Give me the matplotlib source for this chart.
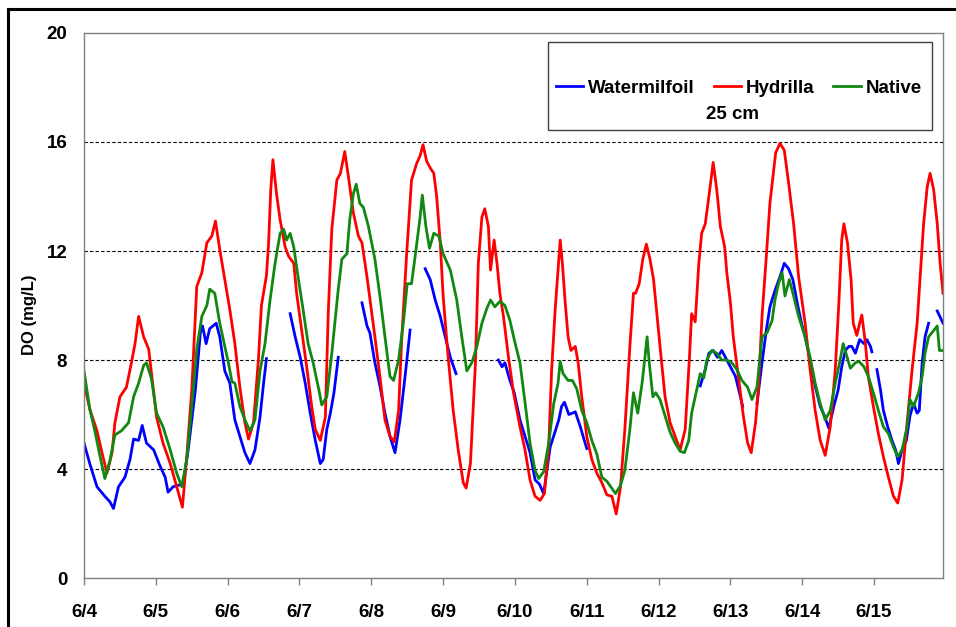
####################
# Imports
####################

import numpy as np
import matplotlib
matplotlib.use("Agg")
import matplotlib.pyplot as plt
from matplotlib.patches import Rectangle
from matplotlib.lines import Line2D

plt.rcParams['font.family'] = ['Liberation Sans', 'DejaVu Sans']
plt.rcParams['font.weight'] = 'bold'

nan = np.nan

####################
# Data (time in days since 6/4 00:00, DO in mg/L)
####################

day_labels = ["6/4", "6/5", "6/6", "6/7", "6/8", "6/9", "6/10", "6/11",
              "6/12", "6/13", "6/14", "6/15"]

hydrilla_t = [0.00, 0.08, 0.18, 0.25, 0.32, 0.39, 0.43, 0.50, 0.59, 0.66, 0.71, 0.76, 0.83, 0.90, 0.94, 1.01, 1.10, 1.20, 1.29, 1.37, 1.43, 1.50, 1.57, 1.64, 1.71, 1.78, 1.83, 1.89, 1.96,
              2.03, 2.10, 2.17, 2.24, 2.29, 2.36, 2.43, 2.47, 2.54, 2.57, 2.60, 2.63, 2.68, 2.73, 2.80, 2.85, 2.92, 2.96, 3.03, 3.10, 3.17, 3.22, 3.29, 3.36, 3.40, 3.45, 3.52, 3.57, 3.63, 3.68, 3.75, 3.82, 3.87, 3.94,
              4.05, 4.12, 4.19, 4.26, 4.32, 4.38, 4.42, 4.49, 4.56, 4.63, 4.68, 4.72, 4.77, 4.82, 4.87, 4.91, 4.96, 5.00, 5.07, 5.14, 5.21, 5.28, 5.32, 5.38, 5.45, 5.49, 5.54, 5.58, 5.63, 5.66, 5.71, 5.75, 5.79, 5.84, 5.91, 5.98,
              6.07, 6.14, 6.21, 6.28, 6.35, 6.41, 6.47, 6.51, 6.56, 6.60, 6.63, 6.66, 6.70, 6.74, 6.78, 6.84, 6.88, 6.93, 7.00, 7.07, 7.14, 7.21, 7.28, 7.35, 7.41, 7.47, 7.53, 7.60, 7.65, 7.68, 7.73, 7.78, 7.83, 7.88, 7.93,
              8.02, 8.09, 8.16, 8.23, 8.30, 8.37, 8.43, 8.46, 8.51, 8.56, 8.60, 8.65, 8.70, 8.76, 8.81, 8.86, 8.92, 8.95, 9.00, 9.04, 9.11, 9.18, 9.24, 9.29, 9.35, 9.39, 9.44, 9.50, 9.55, 9.63, 9.69, 9.75, 9.81, 9.88, 9.95,
              10.04, 10.11, 10.18, 10.25, 10.32, 10.39, 10.46, 10.51, 10.55, 10.58, 10.63, 10.68, 10.71, 10.76, 10.80, 10.83, 10.88, 10.92, 10.99, 11.06, 11.13, 11.20, 11.27, 11.33, 11.39, 11.46, 11.53, 11.60, 11.64, 11.69, 11.74, 11.78, 11.83, 11.88, 11.92, 11.96]
hydrilla_do = [7.15, 6.2, 5.4, 4.6, 3.85, 4.6, 5.7, 6.65, 7.0, 7.9, 8.6, 9.6, 8.85, 8.4, 7.5, 5.9, 4.95, 4.2, 3.35, 2.6, 4.45, 6.9, 10.7, 11.2, 12.3, 12.55, 13.1, 12.05, 10.95,
               9.85, 8.6, 7.0, 5.7, 5.1, 5.7, 8.1, 10.0, 11.1, 12.3, 14.25, 15.35, 14.1, 13.15, 12.15, 11.8, 11.55, 10.45, 9.1, 7.75, 6.3, 5.45, 5.05, 5.9, 9.7, 12.8, 14.6, 14.85, 15.65, 14.75, 13.4, 12.55, 12.3, 11.05,
               8.85, 7.4, 5.8, 5.2, 5.0, 6.15, 8.6, 11.8, 14.6, 15.2, 15.5, 15.9, 15.3, 15.05, 14.85, 14.0, 12.3, 10.35, 8.1, 6.15, 4.7, 3.5, 3.3, 4.2, 7.9, 11.55, 13.25, 13.55, 12.9, 11.3, 12.4, 11.55, 10.45, 9.6, 8.1, 6.8,
               5.55, 4.7, 3.6, 3.0, 2.85, 3.1, 4.8, 7.6, 9.85, 11.3, 12.4, 11.55, 10.1, 8.85, 8.35, 8.5, 7.9, 6.65, 5.2, 4.35, 3.85, 3.5, 3.05, 3.0, 2.35, 3.35, 5.45, 8.5, 10.45, 10.45, 10.8, 11.7, 12.25, 11.7, 10.95,
               8.5, 6.65, 5.7, 5.2, 4.7, 5.45, 8.1, 9.7, 9.4, 11.55, 12.65, 13.0, 14.0, 15.25, 14.25, 12.9, 12.15, 11.2, 10.1, 8.85, 7.4, 5.95, 4.95, 4.6, 5.7, 6.95, 9.6, 11.8, 13.75, 15.6, 15.95, 15.7, 14.5, 13.0, 11.05,
               9.35, 7.65, 6.15, 5.05, 4.5, 5.55, 7.65, 10.1, 12.4, 13.0, 12.3, 10.95, 9.35, 8.9, 9.35, 9.65, 8.6, 7.4, 6.3, 5.3, 4.45, 3.7, 3.0, 2.75, 3.6, 5.7, 7.65, 9.35, 10.95, 13.0, 14.35, 14.85, 14.25, 13.0, 11.55, 10.45]

native_t = [0.00, 0.08, 0.15, 0.22, 0.29, 0.36, 0.43, 0.52, 0.62, 0.69, 0.76, 0.83, 0.87, 0.94, 1.01, 1.10, 1.20, 1.29, 1.36, 1.43, 1.50, 1.57, 1.64, 1.71, 1.75, 1.82, 1.89,
            2.01, 2.06, 2.10, 2.17, 2.24, 2.31, 2.38, 2.45, 2.52, 2.59, 2.66, 2.73, 2.78, 2.82, 2.87, 2.92, 2.98, 3.05, 3.12, 3.19, 3.27, 3.31, 3.38, 3.45, 3.54, 3.59, 3.66, 3.70, 3.75, 3.79, 3.84, 3.89, 3.96,
            4.05, 4.12, 4.19, 4.26, 4.31, 4.38, 4.45, 4.50, 4.56, 4.61, 4.68, 4.71, 4.76, 4.81, 4.87, 4.94, 5.00, 5.10, 5.19, 5.26, 5.33, 5.40, 5.47, 5.54, 5.61, 5.66, 5.72, 5.79, 5.86, 5.93, 5.99,
            6.07, 6.14, 6.21, 6.28, 6.33, 6.40, 6.47, 6.54, 6.60, 6.63, 6.67, 6.74, 6.80, 6.86, 6.93, 7.00, 7.07, 7.14, 7.21, 7.28, 7.40, 7.47, 7.53, 7.60, 7.65, 7.71, 7.77, 7.81, 7.84, 7.87, 7.92, 7.96,
            8.02, 8.09, 8.16, 8.23, 8.30, 8.36, 8.42, 8.46, 8.53, 8.58, 8.63, 8.67, 8.74, 8.81, 8.88, 8.95, 9.02, 9.09, 9.16, 9.24, 9.30, 9.37, 9.44, 9.51, 9.58, 9.62, 9.67, 9.72, 9.76, 9.82, 9.88, 9.95,
            10.04, 10.11, 10.18, 10.25, 10.32, 10.39, 10.46, 10.52, 10.57, 10.62, 10.67, 10.74, 10.79, 10.86, 10.92, 10.99, 11.06, 11.13, 11.20, 11.27, 11.33, 11.39, 11.46, 11.50, 11.55, 11.62, 11.67, 11.71, 11.76, 11.82, 11.88, 11.91, 11.96]
native_do = [7.6, 6.2, 5.4, 4.5, 3.65, 4.3, 5.25, 5.4, 5.7, 6.65, 7.15, 7.8, 7.9, 7.3, 6.05, 5.55, 4.7, 3.85, 3.35, 4.35, 6.3, 8.4, 9.6, 10.0, 10.6, 10.45, 9.35,
             7.9, 7.2, 7.15, 6.3, 5.8, 5.4, 5.8, 7.6, 8.6, 10.2, 11.55, 12.65, 12.8, 12.4, 12.65, 12.15, 11.05, 9.85, 8.6, 7.9, 6.9, 6.35, 6.65, 8.25, 10.6, 11.7, 11.9, 13.15, 14.1, 14.45, 13.75, 13.6, 12.9,
             11.7, 10.35, 8.85, 7.4, 7.25, 8.0, 9.45, 10.8, 10.8, 11.8, 13.25, 14.05, 12.9, 12.1, 12.65, 12.55, 11.9, 11.3, 10.2, 8.85, 7.6, 7.9, 8.5, 9.35, 9.9, 10.2, 9.95, 10.15, 10.0, 9.45, 8.75,
             7.9, 6.45, 4.95, 3.95, 3.65, 3.9, 4.95, 6.4, 7.15, 7.95, 7.5, 7.25, 7.25, 6.95, 6.15, 5.7, 5.05, 4.55, 3.7, 3.55, 3.1, 3.4, 3.95, 5.45, 6.8, 6.05, 7.15, 8.1, 8.85, 7.9, 6.65, 6.8,
             6.55, 5.95, 5.35, 4.95, 4.65, 4.6, 5.05, 6.05, 6.9, 7.5, 7.35, 8.0, 8.35, 8.25, 8.0, 8.0, 7.9, 7.65, 7.25, 7.0, 6.55, 7.0, 8.85, 9.0, 9.45, 10.2, 10.8, 11.2, 10.35, 10.95, 10.35, 9.6,
             8.85, 8.1, 7.15, 6.4, 5.8, 6.15, 7.15, 7.9, 8.6, 8.15, 7.7, 7.9, 7.95, 7.75, 7.4, 6.8, 6.15, 5.55, 5.3, 4.8, 4.45, 4.7, 5.55, 6.55, 6.3, 6.8, 7.4, 8.25, 8.85, 9.05, 9.25, 8.35, 8.35]

# watermilfoil logger has gaps (nan breaks the line)
milfoil_t = [0.00, 0.08, 0.18, 0.29, 0.36, 0.41, 0.48, 0.57, 0.64, 0.69, 0.76, 0.81, 0.87, 0.97, 1.06, 1.13, 1.17, 1.24, 1.31, 1.38, 1.45, 1.55, 1.62, 1.65, 1.70, 1.75, 1.84, 1.89, 1.96,
             2.03, 2.10, 2.17, 2.24, 2.31, 2.38, 2.45, 2.50, 2.54, 2.70,
             2.87, 2.94, 3.01, 3.08, 3.15, 3.22, 3.29, 3.33, 3.38, 3.43, 3.48, 3.54, 3.70,
             3.87, 3.94, 3.98, 4.05, 4.12, 4.19, 4.26, 4.33, 4.40, 4.47, 4.54, 4.65,
             4.75, 4.82, 4.89, 4.96, 5.03, 5.10, 5.18, 5.50,
             5.77, 5.82, 5.86, 5.93, 5.99, 6.07, 6.14, 6.21, 6.28, 6.34, 6.40, 6.49, 6.55, 6.61, 6.65, 6.69, 6.75, 6.80, 6.84, 6.91, 7.00, 7.80,
             8.58, 8.65, 8.70, 8.76, 8.82, 8.88, 8.93, 9.00, 9.07, 9.14, 9.17, 9.27,
             9.37, 9.44, 9.50, 9.55, 9.62, 9.69, 9.75, 9.81, 9.87, 9.93, 9.99, 10.04, 10.11, 10.18, 10.25, 10.31, 10.37, 10.44, 10.50, 10.55, 10.60, 10.65, 10.69, 10.74, 10.80, 10.86, 10.90, 10.95, 10.97, 11.00,
             11.04, 11.09, 11.13, 11.19, 11.25, 11.30, 11.34, 11.39, 11.45, 11.50, 11.55, 11.60, 11.63, 11.67, 11.71, 11.76, 11.82,
             11.88, 11.96]
milfoil_do = [4.95, 4.2, 3.35, 3.0, 2.8, 2.55, 3.35, 3.7, 4.35, 5.1, 5.05, 5.6, 4.95, 4.7, 4.1, 3.7, 3.15, 3.35, 3.4, 3.45, 4.7, 6.9, 9.0, 9.25, 8.6, 9.15, 9.35, 8.85, 7.6,
              7.15, 5.8, 5.2, 4.6, 4.2, 4.7, 5.9, 7.15, 8.05, nan,
              9.7, 8.85, 8.1, 7.15, 6.05, 5.05, 4.2, 4.35, 5.45, 6.05, 6.8, 8.1, nan,
              10.1, 9.25, 9.0, 7.9, 7.05, 6.05, 5.2, 4.6, 5.8, 7.4, 9.1, nan,
              11.35, 10.95, 10.2, 9.6, 8.85, 8.1, 7.5, nan,
              8.0, 7.75, 7.9, 7.25, 6.8, 5.8, 5.2, 4.6, 3.6, 3.45, 3.1, 4.8, 5.3, 5.8, 6.3, 6.45, 6.0, 6.05, 6.1, 5.55, 4.75, nan,
              7.05, 7.65, 8.25, 8.35, 8.1, 8.35, 8.1, 7.75, 7.4, 6.65, 6.3, nan,
              6.4, 7.9, 9.1, 9.95, 10.55, 11.05, 11.55, 11.35, 10.95, 10.1, 9.35, 8.85, 8.0, 7.05, 6.3, 5.95, 5.5, 6.3, 6.9, 7.75, 8.35, 8.5, 8.5, 8.25, 8.75, 8.6, 8.75, 8.5, 8.3, nan,
              7.65, 6.9, 6.15, 5.55, 5.05, 4.7, 4.2, 4.7, 5.05, 5.95, 6.4, 6.05, 6.15, 7.9, 8.85, 9.35, nan,
              9.8, 9.35]


####################
# Plot
####################

fig = plt.figure(figsize=(9.56, 6.27), dpi=100)
ax = fig.add_axes([0.0879, 0.0781, 0.8985, 0.8693])

ax.plot(milfoil_t, milfoil_do, color='#0000ff', lw=2, label='Watermilfoil')
ax.plot(hydrilla_t, hydrilla_do, color='#ff0000', lw=2, label='Hydrilla')
ax.plot(native_t, native_do, color='#118811', lw=2, label='Native')

ax.set_xlim(0, 11.96)
ax.set_ylim(0, 20)
ax.set_xticks(range(len(day_labels)))
ax.set_xticklabels(day_labels)
ax.set_yticks([0, 4, 8, 12, 16, 20])

for v in [4, 8, 12, 16]:
    ax.axhline(v, color='black', lw=0.8, ls=(0, (3, 2)), zorder=0)

for s in ax.spines.values():
    s.set_color('#808080')
    s.set_linewidth(1.0)

ax.tick_params(axis='x', direction='out', length=5, width=1, color='#808080',
               labelsize=13.5, pad=14)
ax.tick_params(axis='y', length=0, labelsize=13.5, pad=12)

ax.set_ylabel('DO (mg/L)', fontsize=12, fontweight='bold')
ax.yaxis.label.set_va('center')
ax.yaxis.set_label_coords(-0.063, 0.483)

# legend box with depth label
ax.add_patch(Rectangle((0.540, 0.822), 0.447, 0.1615, transform=ax.transAxes,
                       facecolor='white', edgecolor='#404040', lw=1.0, zorder=5))
leg = ax.legend(loc='center', bbox_to_anchor=(0.7625, 0.899), ncol=3,
                frameon=False, fontsize=13.5, handlelength=1.45,
                handletextpad=0.27, columnspacing=1.0, borderaxespad=0)
leg.set_zorder(6)
ax.text(0.7555, 0.8505, '25 cm', transform=ax.transAxes, ha='center',
        va='center', fontsize=13.5, fontweight='bold', zorder=6)

# outer frame (left and top edges visible)
fig.add_artist(Line2D([0.0084, 0.0084], [0.0, 0.9856], transform=fig.transFigure,
                      color='black', lw=2.2))
fig.add_artist(Line2D([0.0084, 1.0], [0.9856, 0.9856], transform=fig.transFigure,
                      color='black', lw=2.2))

fig.savefig('out.png', dpi=100)
